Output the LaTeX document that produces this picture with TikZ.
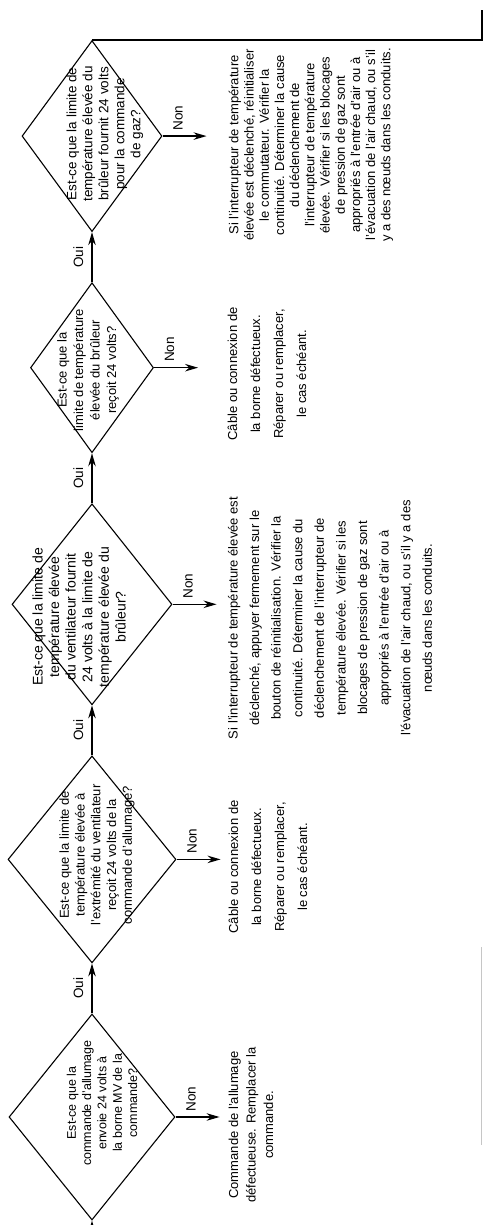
\documentclass[tikz,border=0pt]{standalone}
\usepackage{fontspec}
\setmainfont{Liberation Sans}
\usetikzlibrary{arrows.meta,positioning,shapes.geometric}
\setlength{\lineskiplimit}{-20pt}

\begin{document}
\begin{tikzpicture}[
    rotate=90, transform shape, x=1pt, y=1pt,
    node distance=50pt,
    decision/.style={draw, diamond, line width=1.1pt, inner sep=0pt},
    question/.style 2 args={align=center, inner sep=0pt,
      font={\fontsize{#1}{#2}\selectfont}},
    remedy/.style={align=center, inner sep=0pt,
      font={\fontsize{13}{#1}\selectfont}},
    answer/.style={inner sep=1pt, font={\fontsize{13.5}{16}\selectfont}},
    arrow/.style={-{Stealth[length=13pt,width=7.5pt]}, line width=1.4pt}
  ]
    \useasboundingbox (0,0) rectangle (1225,-482);

    % decisions, left to right before the page is turned
    \node[decision, minimum width=206pt, minimum height=166pt] (q1) at (108,-92) {};
    \node[decision, minimum width=207pt, minimum height=168pt, right=of q1] (q2) {};
    \node[decision, minimum width=201pt, minimum height=160pt, right=of q2] (q3) {};
    \node[decision, minimum width=170pt, minimum height=123pt, right=of q3] (q4) {};
    \node[decision, minimum width=191pt, minimum height=140pt, right=of q4] (q5) {};

    \node[question={12.5}{15.3}] (q1t) at (122,-102) {Est-ce que la\\commande d'allumage\\envoie 24 volts à\\la borne MV de la\\commande?};
    \node[question={13}{15.8}] (q2t) at (370,-97) {Est-ce que la limite de\\température élevée à\\l'extrémité du ventilateur\\reçoit 24 volts de la\\commande d'allumage?};
    \node[question={14}{16.6}] (q3t) at (608,-79) {Est-ce que la limite de\\température élevée\\du ventilateur fournit\\24 volts à la limite de\\température élevée du\\brûleur?};
    \node[question={13}{16.5}] (q4t) at (855,-88) {Est-ce que la\\limite de température\\élevée du brûleur\\reçoit 24 volts?};
    \node[question={13.5}{16}] (q5t) at (1091,-105) {Est-ce que la limite de\\température élevée du\\brûleur fournit 24 volts\\pour la commande\\de gaz?};

    % ends of the Non arrows
    \coordinate[below=44pt of q1.south] (n1);
    \coordinate[below=44pt of q2.south] (n2);
    \coordinate[below=44pt of q3.south] (n3);
    \coordinate[below=44pt of q4.south] (n4);
    \coordinate[below=44pt of q5.south] (n5);

    \node[remedy=17.5] (t1) at (100,-251) {Commande de l'allumage\\défectueuse. Remplacer la\\commande.};
    \node[remedy=23] (t2) at (358,-268) {Câble ou connexion de\\la borne défectueux.\\Réparer ou remplacer,\\le cas échéant.};
    \node[remedy=21.6] (t3) at (607,-330) {Si l'interrupteur de température élevée est\\déclenché, appuyer fermement sur le\\bouton de réinitialisation. Vérifier la\\continuité. Déterminer la cause du\\déclenchement de l'interrupteur de\\température élevée. Vérifier si les\\blocages de pression de gaz sont\\appropriés à l'entrée d'air ou à\\l'évacuation de l'air chaud, ou s'il y a des\\nœuds dans les conduits.};
    \node[remedy=23] (t4) at (851,-267) {Câble ou connexion de\\la borne défectueux.\\Réparer ou remplacer,\\le cas échéant.};
    \node[remedy=15.2] (t5) at (1080,-311) {Si l'interrupteur de température\\élevée est déclenché, réinitialiser\\le commutateur. Vérifier la\\continuité. Déterminer la cause\\du déclenchement de\\l'interrupteur de température\\élevée. Vérifier si les blocages\\de pression de gaz sont\\appropriés à l'entrée d'air ou à\\l'évacuation de l'air chaud, ou s'il\\y a des nœuds dans les conduits.};

    \coordinate (start) at (-12,-92);
    \coordinate (exit) at (1215,-482);

    \draw[arrow] (start) -- (q1.west);
    \draw[arrow] (q1.east) -- node[answer, above=7pt] (oui1) {Oui} (q2.west);
    \draw[arrow] (q2.east) -- node[answer, above=7pt] (oui2) {Oui} (q3.west);
    \draw[arrow] (q3.east) -- node[answer, above=7pt] (oui3) {Oui} (q4.west);
    \draw[arrow] (q4.east) -- node[answer, above=7pt] (oui4) {Oui} (q5.west);
    \draw[line width=1.4pt] (q5.east) |- (exit);

    \draw[arrow] (q1.south) -- node[answer, right=4pt, pos=0.35] (non1) {Non} (n1);
    \draw[arrow] (q2.south) -- node[answer, right=4pt, pos=0.35] (non2) {Non} (n2);
    \draw[arrow] (q3.south) -- node[answer, right=4pt, pos=0.35] (non3) {Non} (n3);
    \draw[arrow] (q4.south) -- node[answer, right=4pt, pos=0.35] (non4) {Non} (n4);
    \draw[arrow] (q5.south) -- node[answer, right=4pt, pos=0.35] (non5) {Non} (n5);

    % faint page edge
    \draw[gray!45, line width=0.6pt] (80,-481) -- (278,-481);
  \end{tikzpicture}
\end{document}
